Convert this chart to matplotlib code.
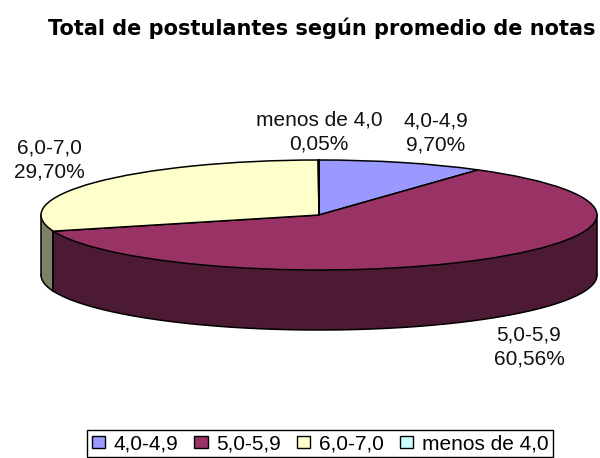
import numpy as np
import matplotlib
matplotlib.use("Agg")
import matplotlib.pyplot as plt
from matplotlib.patches import Patch

categories = ["4,0-4,9", "5,0-5,9", "6,0-7,0", "menos de 4,0"]
values = [9.70, 60.56, 29.70, 0.05]
pct_labels = ["9,70%", "60,56%", "29,70%", "0,05%"]

top_colors = ["#9999ff", "#993366", "#ffffcc", "#ccffff"]
side_colors = ["#4d4d80", "#4d1a33", "#808066", "#668080"]

W, H = 600, 458
cx, cy = 319, 215       # centre of the top ellipse, pixels
a, b = 278, 55          # ellipse half axes
depth = 60

plt.rcParams['font.family'] = ['Liberation Sans', 'DejaVu Sans']

fig = plt.figure(figsize=(W/100, H/100), dpi=100)
ax = fig.add_axes([0, 0, 1, 1])

d = depth/b
bounds = 2*np.pi*np.concatenate([[0], np.cumsum(values)])/np.sum(values)

# side wall: only the front half of the pie shows
for i in range(len(values)):
    lo = max(bounds[i], np.pi/2)
    hi = min(bounds[i+1], 3*np.pi/2)
    if hi <= lo:
        continue
    t = np.linspace(lo, hi, 200)
    xs = np.sin(t)
    ys = np.cos(t)
    ax.fill(np.r_[xs, xs[::-1]], np.r_[ys, ys[::-1]-d], color=side_colors[i], lw=0, zorder=2)
    ax.plot(xs, ys-d, color='black', lw=1.1, zorder=3)
    for e in (lo, hi):
        ax.plot([np.sin(e)]*2, [np.cos(e), np.cos(e)-d], color='black', lw=1.1, zorder=3)

# top face
wedges, _ = ax.pie(values, colors=top_colors, startangle=90, counterclock=False,
                   center=(0, 0), radius=1,
                   wedgeprops={'linewidth': 1.1, 'edgecolor': 'black', 'zorder': 6})

ax.set_aspect('auto')
ax.set_xlim(-cx/a, (W-cx)/a)
ax.set_ylim(-(H-cy)/b, cy/b)
ax.axis('off')

fig.text(322/W, 1-28/H, "Total de postulantes según promedio de notas",
         ha='center', va='center', fontsize=15, fontweight='bold', family='DejaVu Sans')

label_pos = [(436, 133), (529, 347), (49, 160), (319, 132)]
for name, pct, (x, y) in zip(categories, pct_labels, label_pos):
    fig.text(x/W, 1-y/H, name + "\n" + pct, ha='center', va='center',
             fontsize=15, linespacing=1.35, color='#111111')

handles = [Patch(facecolor=c, edgecolor='black', label=n)
           for c, n in zip(top_colors, categories)]
fig.legend(handles=handles, ncol=4, loc='upper center',
           bbox_to_anchor=(320/W, 1-430/H), fontsize=15, frameon=True, fancybox=False,
           edgecolor='black', framealpha=1, handlelength=0.63, handleheight=0.55,
           handletextpad=0.4, columnspacing=0.8, borderpad=0.2, borderaxespad=0)

fig.savefig("out.png", dpi=100)
